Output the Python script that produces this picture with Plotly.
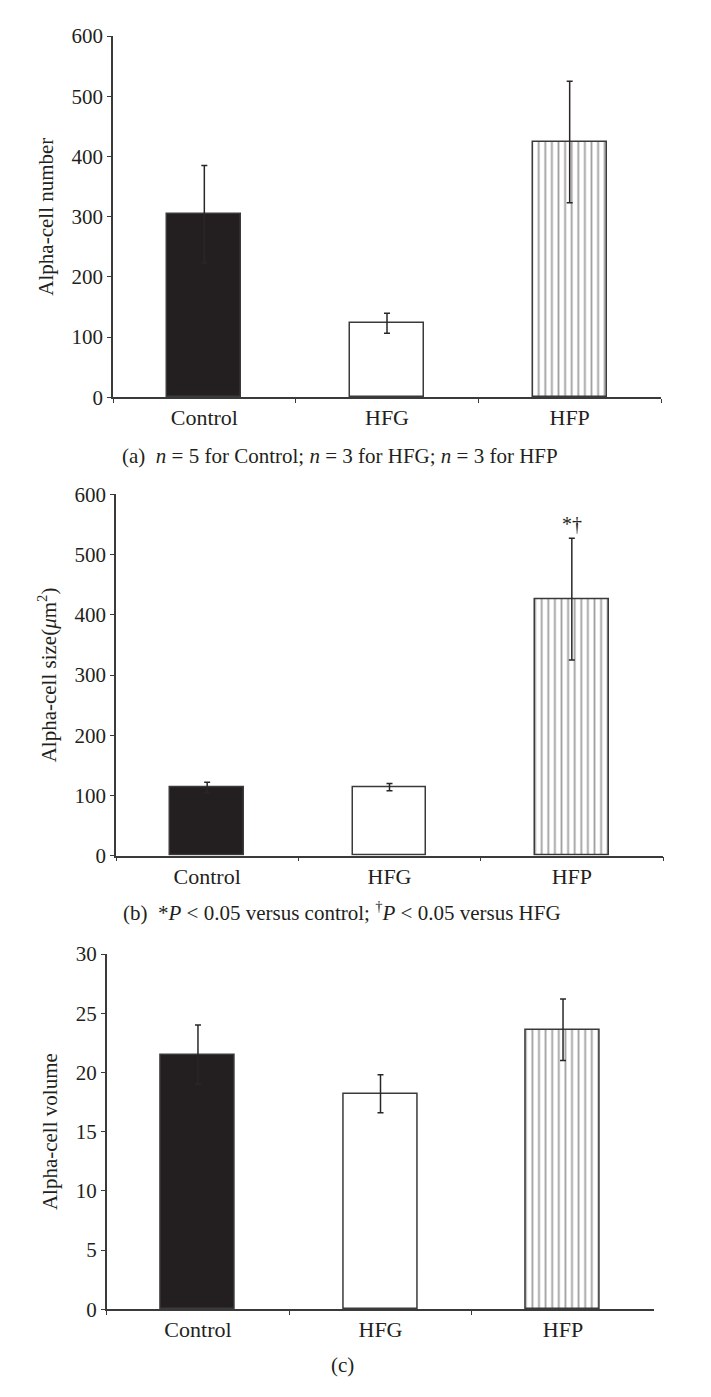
import plotly.graph_objects as go

categories = ["Control", "HFG", "HFP"]

number_vals = [304, 123, 424]
number_err = [81, 16.5, 101]

size_vals = [113, 114, 426]
size_err = [9, 6, 101]

volume_vals = [21.5, 18.2, 23.6]
volume_err = [2.5, 1.6, 2.6]

W, H = 711, 1397
OFF = 8  # page body margin
FONT = "Liberation Serif"
AX = "#3a3a3a"
DARK = "#231f20"

fig = go.Figure()

panels = [
    (number_vals, number_err, "x", "y"),
    (size_vals, size_err, "x2", "y2"),
    (volume_vals, volume_err, "x3", "y3"),
]
for vals, err, xa, ya in panels:
    fig.add_trace(go.Bar(
        x=categories, y=vals, xaxis=xa, yaxis=ya, width=0.405,
        marker=dict(
            color=[DARK, "white", "white"],
            line=dict(color=AX, width=1.5),
            pattern=dict(shape=["", "", "|"], fgcolor=DARK, bgcolor="white",
                         size=6.6, solidity=0.28),
        ),
        error_y=dict(type="data", array=err, color="#2a2627", thickness=1.5, width=3),
        showlegend=False,
    ))

def px_x(p):
    return (p - OFF) / W

def px_y(p):
    return 1 - (p - OFF) / H

xcommon = dict(type="category", showline=True, linecolor=AX, linewidth=1.5,
               ticks="outside", tickson="boundaries", ticklen=4, tickcolor=AX,
               tickfont=dict(family=FONT, size=22, color="#231f20"), automargin=False,
               showgrid=False, zeroline=False, fixedrange=True)
ycommon = dict(showline=True, linecolor=AX, linewidth=1.5, ticks="outside",
               ticklen=4, tickcolor=AX, automargin=False,
               tickfont=dict(family=FONT, size=21, color="#231f20"),
               showgrid=False, zeroline=False, fixedrange=True)
tfont = dict(family=FONT, size=21, color="#231f20")

fig.update_layout(
    width=W, height=H,
    margin=dict(l=0, r=0, t=0, b=0, pad=0),
    paper_bgcolor="white", plot_bgcolor="white",
    bargap=0,
    xaxis=dict(domain=[px_x(113), px_x(661)], anchor="y", **xcommon),
    yaxis=dict(domain=[px_y(397.3), px_y(36)], anchor="x", range=[0, 600],
               dtick=100, title=dict(text="Alpha-cell number", standoff=12, font=tfont),
               **ycommon),
    xaxis2=dict(domain=[px_x(116), px_x(663)], anchor="y2", **xcommon),
    yaxis2=dict(domain=[px_y(855.7), px_y(494.3)], anchor="x2", range=[0, 600],
                dtick=100, title=dict(text="Alpha-cell size(<i>μ</i>m<sup>2</sup>)", standoff=12,
                                      font=tfont),
                **ycommon),
    xaxis3=dict(domain=[px_x(106.7), px_x(654.3)], anchor="y3", **xcommon),
    yaxis3=dict(domain=[px_y(1309.3), px_y(954)], anchor="x3", range=[0, 30],
                dtick=5, title=dict(text="Alpha-cell volume", standoff=12, font=tfont),
                **ycommon),
)

cap_font = dict(family=FONT, size=21, color="#231f20")
fig.add_annotation(xref="paper", yref="paper", x=px_x(340), y=px_y(456),
                   text="(a)  <i>n</i> = 5 for Control; <i>n</i> = 3 for HFG; <i>n</i> = 3 for HFP",
                   showarrow=False, font=cap_font, xanchor="center", yanchor="middle")
fig.add_annotation(xref="paper", yref="paper", x=px_x(342), y=px_y(911),
                   text="(b)  *<i>P</i> < 0.05 versus control; <sup>†</sup><i>P</i> < 0.05 versus HFG",
                   showarrow=False, font=cap_font, xanchor="center", yanchor="middle")
fig.add_annotation(xref="paper", yref="paper", x=px_x(342), y=px_y(1365),
                   text="(c)", showarrow=False, font=cap_font,
                   xanchor="center", yanchor="middle")
fig.add_annotation(xref="x2", yref="y2", x="HFP", y=size_vals[2] + size_err[2],
                   text="*†", showarrow=False, yshift=14,
                   font=dict(family=FONT, size=20, color="#231f20"))

fig.write_html("out.html")
